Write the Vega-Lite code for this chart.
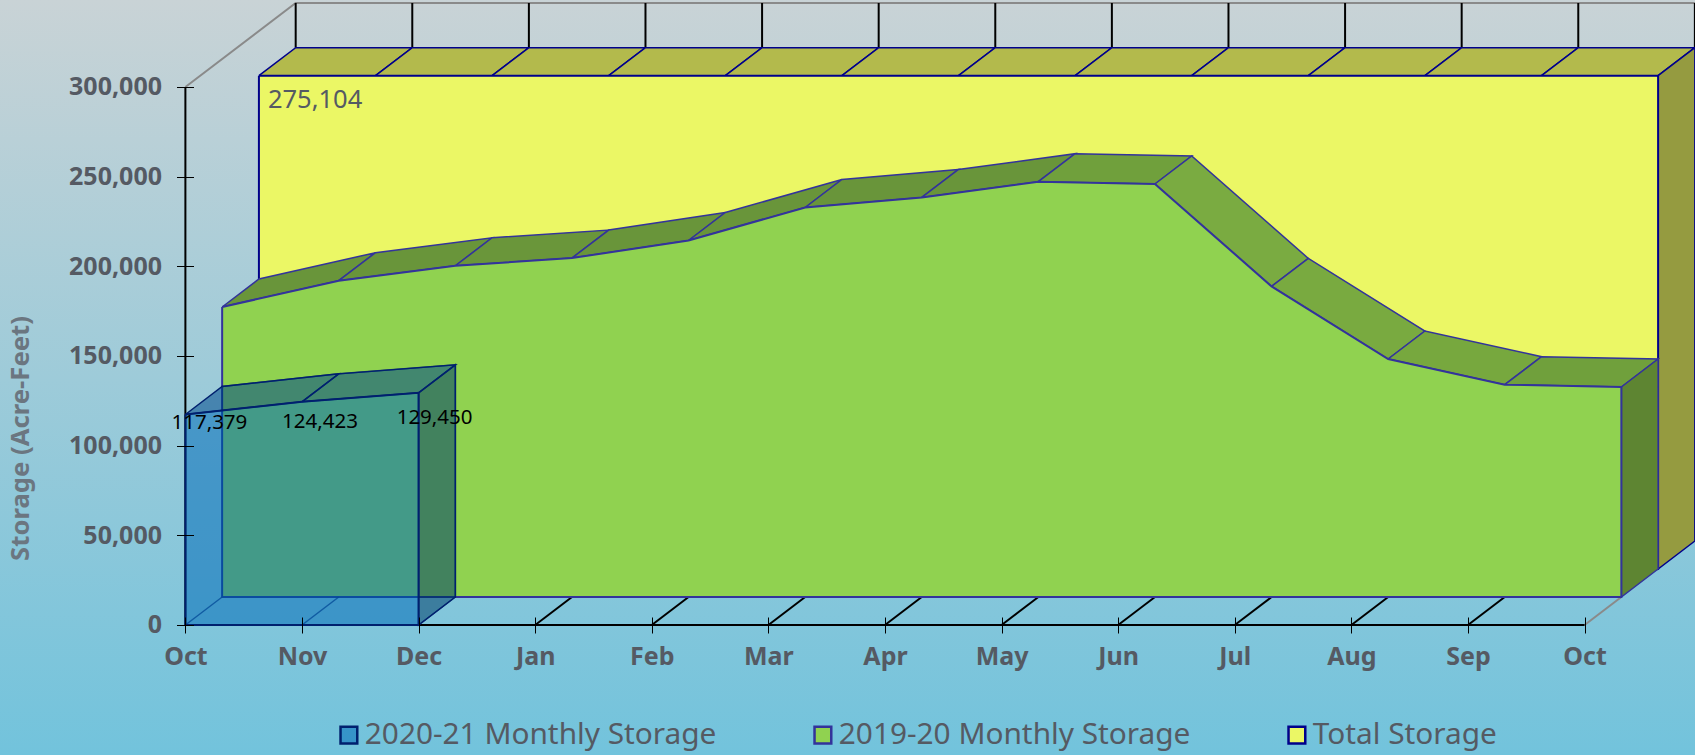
{"$schema":"https://vega.github.io/schema/vega-lite/v6.json","width":1695,"height":755,"padding":0,"autosize":{"type":"none"},
"view":{"stroke":null,"fill":{"gradient":"linear","x1":0,"y1":0,"x2":0,"y2":1,"stops":[{"offset":0,"color":"#c9d3d6"},{"offset":1,"color":"#72c3dc"}]}},
"config":{"font":"Noto Sans"},
"data":{"values":[
{"part":"walls","poly":"w0","ord":1,"t":0,"storage":300000,"depth":3},{"part":"walls","poly":"w0","ord":2,"t":0,"storage":275104,"depth":3},
{"part":"walls","poly":"w1","ord":1,"t":1,"storage":300000,"depth":3},{"part":"walls","poly":"w1","ord":2,"t":1,"storage":275104,"depth":3},
{"part":"walls","poly":"w2","ord":1,"t":2,"storage":300000,"depth":3},{"part":"walls","poly":"w2","ord":2,"t":2,"storage":275104,"depth":3},
{"part":"walls","poly":"w3","ord":1,"t":3,"storage":300000,"depth":3},{"part":"walls","poly":"w3","ord":2,"t":3,"storage":275104,"depth":3},
{"part":"walls","poly":"w4","ord":1,"t":4,"storage":300000,"depth":3},{"part":"walls","poly":"w4","ord":2,"t":4,"storage":275104,"depth":3},
{"part":"walls","poly":"w5","ord":1,"t":5,"storage":300000,"depth":3},{"part":"walls","poly":"w5","ord":2,"t":5,"storage":275104,"depth":3},
{"part":"walls","poly":"w6","ord":1,"t":6,"storage":300000,"depth":3},{"part":"walls","poly":"w6","ord":2,"t":6,"storage":275104,"depth":3},
{"part":"walls","poly":"w7","ord":1,"t":7,"storage":300000,"depth":3},{"part":"walls","poly":"w7","ord":2,"t":7,"storage":275104,"depth":3},
{"part":"walls","poly":"w8","ord":1,"t":8,"storage":300000,"depth":3},{"part":"walls","poly":"w8","ord":2,"t":8,"storage":275104,"depth":3},
{"part":"walls","poly":"w9","ord":1,"t":9,"storage":300000,"depth":3},{"part":"walls","poly":"w9","ord":2,"t":9,"storage":275104,"depth":3},
{"part":"walls","poly":"w10","ord":1,"t":10,"storage":300000,"depth":3},{"part":"walls","poly":"w10","ord":2,"t":10,"storage":275104,"depth":3},
{"part":"walls","poly":"w11","ord":1,"t":11,"storage":300000,"depth":3},{"part":"walls","poly":"w11","ord":2,"t":11,"storage":275104,"depth":3},
{"part":"walls","poly":"w12","ord":1,"t":12,"storage":300000,"depth":3},{"part":"walls","poly":"w12","ord":2,"t":12,"storage":275104,"depth":3},
{"part":"walls","poly":"f3","ord":1,"t":3,"storage":0,"depth":0},{"part":"walls","poly":"f3","ord":2,"t":3,"storage":0,"depth":1},
{"part":"walls","poly":"f4","ord":1,"t":4,"storage":0,"depth":0},{"part":"walls","poly":"f4","ord":2,"t":4,"storage":0,"depth":1},
{"part":"walls","poly":"f5","ord":1,"t":5,"storage":0,"depth":0},{"part":"walls","poly":"f5","ord":2,"t":5,"storage":0,"depth":1},
{"part":"walls","poly":"f6","ord":1,"t":6,"storage":0,"depth":0},{"part":"walls","poly":"f6","ord":2,"t":6,"storage":0,"depth":1},
{"part":"walls","poly":"f7","ord":1,"t":7,"storage":0,"depth":0},{"part":"walls","poly":"f7","ord":2,"t":7,"storage":0,"depth":1},
{"part":"walls","poly":"f8","ord":1,"t":8,"storage":0,"depth":0},{"part":"walls","poly":"f8","ord":2,"t":8,"storage":0,"depth":1},
{"part":"walls","poly":"f9","ord":1,"t":9,"storage":0,"depth":0},{"part":"walls","poly":"f9","ord":2,"t":9,"storage":0,"depth":1},
{"part":"walls","poly":"f10","ord":1,"t":10,"storage":0,"depth":0},{"part":"walls","poly":"f10","ord":2,"t":10,"storage":0,"depth":1},
{"part":"walls","poly":"f11","ord":1,"t":11,"storage":0,"depth":0},{"part":"walls","poly":"f11","ord":2,"t":11,"storage":0,"depth":1},
{"part":"walls","poly":"ax","ord":1,"t":0,"storage":300000,"depth":0},{"part":"walls","poly":"ax","ord":2,"t":0,"storage":0,"depth":0},{"part":"walls","poly":"ax","ord":3,"t":12,"storage":0,"depth":0},
{"part":"edges","poly":"g1","ord":1,"t":0,"storage":300000,"depth":0},{"part":"edges","poly":"g1","ord":2,"t":0,"storage":300000,"depth":3},{"part":"edges","poly":"g1","ord":3,"t":12,"storage":300000,"depth":3},
{"part":"edges","poly":"g2","ord":1,"t":12,"storage":0,"depth":0},{"part":"edges","poly":"g2","ord":2,"t":12,"storage":0,"depth":1},
{"part":"yellowTop","poly":0,"ord":1,"t":0,"storage":275104,"depth":2},{"part":"yellowTop","poly":0,"ord":2,"t":1,"storage":275104,"depth":2},{"part":"yellowTop","poly":0,"ord":3,"t":1,"storage":275104,"depth":3},{"part":"yellowTop","poly":0,"ord":4,"t":0,"storage":275104,"depth":3},{"part":"yellowTop","poly":0,"ord":5,"t":0,"storage":275104,"depth":2},
{"part":"yellowTop","poly":1,"ord":1,"t":1,"storage":275104,"depth":2},{"part":"yellowTop","poly":1,"ord":2,"t":2,"storage":275104,"depth":2},{"part":"yellowTop","poly":1,"ord":3,"t":2,"storage":275104,"depth":3},{"part":"yellowTop","poly":1,"ord":4,"t":1,"storage":275104,"depth":3},{"part":"yellowTop","poly":1,"ord":5,"t":1,"storage":275104,"depth":2},
{"part":"yellowTop","poly":2,"ord":1,"t":2,"storage":275104,"depth":2},{"part":"yellowTop","poly":2,"ord":2,"t":3,"storage":275104,"depth":2},{"part":"yellowTop","poly":2,"ord":3,"t":3,"storage":275104,"depth":3},{"part":"yellowTop","poly":2,"ord":4,"t":2,"storage":275104,"depth":3},{"part":"yellowTop","poly":2,"ord":5,"t":2,"storage":275104,"depth":2},
{"part":"yellowTop","poly":3,"ord":1,"t":3,"storage":275104,"depth":2},{"part":"yellowTop","poly":3,"ord":2,"t":4,"storage":275104,"depth":2},{"part":"yellowTop","poly":3,"ord":3,"t":4,"storage":275104,"depth":3},{"part":"yellowTop","poly":3,"ord":4,"t":3,"storage":275104,"depth":3},{"part":"yellowTop","poly":3,"ord":5,"t":3,"storage":275104,"depth":2},
{"part":"yellowTop","poly":4,"ord":1,"t":4,"storage":275104,"depth":2},{"part":"yellowTop","poly":4,"ord":2,"t":5,"storage":275104,"depth":2},{"part":"yellowTop","poly":4,"ord":3,"t":5,"storage":275104,"depth":3},{"part":"yellowTop","poly":4,"ord":4,"t":4,"storage":275104,"depth":3},{"part":"yellowTop","poly":4,"ord":5,"t":4,"storage":275104,"depth":2},
{"part":"yellowTop","poly":5,"ord":1,"t":5,"storage":275104,"depth":2},{"part":"yellowTop","poly":5,"ord":2,"t":6,"storage":275104,"depth":2},{"part":"yellowTop","poly":5,"ord":3,"t":6,"storage":275104,"depth":3},{"part":"yellowTop","poly":5,"ord":4,"t":5,"storage":275104,"depth":3},{"part":"yellowTop","poly":5,"ord":5,"t":5,"storage":275104,"depth":2},
{"part":"yellowTop","poly":6,"ord":1,"t":6,"storage":275104,"depth":2},{"part":"yellowTop","poly":6,"ord":2,"t":7,"storage":275104,"depth":2},{"part":"yellowTop","poly":6,"ord":3,"t":7,"storage":275104,"depth":3},{"part":"yellowTop","poly":6,"ord":4,"t":6,"storage":275104,"depth":3},{"part":"yellowTop","poly":6,"ord":5,"t":6,"storage":275104,"depth":2},
{"part":"yellowTop","poly":7,"ord":1,"t":7,"storage":275104,"depth":2},{"part":"yellowTop","poly":7,"ord":2,"t":8,"storage":275104,"depth":2},{"part":"yellowTop","poly":7,"ord":3,"t":8,"storage":275104,"depth":3},{"part":"yellowTop","poly":7,"ord":4,"t":7,"storage":275104,"depth":3},{"part":"yellowTop","poly":7,"ord":5,"t":7,"storage":275104,"depth":2},
{"part":"yellowTop","poly":8,"ord":1,"t":8,"storage":275104,"depth":2},{"part":"yellowTop","poly":8,"ord":2,"t":9,"storage":275104,"depth":2},{"part":"yellowTop","poly":8,"ord":3,"t":9,"storage":275104,"depth":3},{"part":"yellowTop","poly":8,"ord":4,"t":8,"storage":275104,"depth":3},{"part":"yellowTop","poly":8,"ord":5,"t":8,"storage":275104,"depth":2},
{"part":"yellowTop","poly":9,"ord":1,"t":9,"storage":275104,"depth":2},{"part":"yellowTop","poly":9,"ord":2,"t":10,"storage":275104,"depth":2},{"part":"yellowTop","poly":9,"ord":3,"t":10,"storage":275104,"depth":3},{"part":"yellowTop","poly":9,"ord":4,"t":9,"storage":275104,"depth":3},{"part":"yellowTop","poly":9,"ord":5,"t":9,"storage":275104,"depth":2},
{"part":"yellowTop","poly":10,"ord":1,"t":10,"storage":275104,"depth":2},{"part":"yellowTop","poly":10,"ord":2,"t":11,"storage":275104,"depth":2},{"part":"yellowTop","poly":10,"ord":3,"t":11,"storage":275104,"depth":3},{"part":"yellowTop","poly":10,"ord":4,"t":10,"storage":275104,"depth":3},{"part":"yellowTop","poly":10,"ord":5,"t":10,"storage":275104,"depth":2},
{"part":"yellowTop","poly":11,"ord":1,"t":11,"storage":275104,"depth":2},{"part":"yellowTop","poly":11,"ord":2,"t":12,"storage":275104,"depth":2},{"part":"yellowTop","poly":11,"ord":3,"t":12,"storage":275104,"depth":3},{"part":"yellowTop","poly":11,"ord":4,"t":11,"storage":275104,"depth":3},{"part":"yellowTop","poly":11,"ord":5,"t":11,"storage":275104,"depth":2},
{"part":"yellowSide","poly":0,"ord":1,"t":12,"storage":275104,"depth":2},{"part":"yellowSide","poly":0,"ord":2,"t":12,"storage":275104,"depth":3},{"part":"yellowSide","poly":0,"ord":3,"t":12,"storage":0,"depth":3},{"part":"yellowSide","poly":0,"ord":4,"t":12,"storage":0,"depth":2},{"part":"yellowSide","poly":0,"ord":5,"t":12,"storage":275104,"depth":2},
{"part":"yellowFront","poly":0,"ord":1,"t":0,"storage":275104,"depth":2,"series":"Total Storage"},{"part":"yellowFront","poly":0,"ord":2,"t":12,"storage":275104,"depth":2,"series":"Total Storage"},{"part":"yellowFront","poly":0,"ord":3,"t":12,"storage":0,"depth":2,"series":"Total Storage"},{"part":"yellowFront","poly":0,"ord":4,"t":0,"storage":0,"depth":2,"series":"Total Storage"},{"part":"yellowFront","poly":0,"ord":5,"t":0,"storage":275104,"depth":2,"series":"Total Storage"},
{"part":"greenTop","poly":0,"ord":1,"t":0,"storage":161700,"depth":1,"change":14700},{"part":"greenTop","poly":0,"ord":2,"t":1,"storage":176400,"depth":1,"change":14700},{"part":"greenTop","poly":0,"ord":3,"t":1,"storage":176400,"depth":2,"change":14700},{"part":"greenTop","poly":0,"ord":4,"t":0,"storage":161700,"depth":2,"change":14700},{"part":"greenTop","poly":0,"ord":5,"t":0,"storage":161700,"depth":1,"change":14700},
{"part":"greenTop","poly":1,"ord":1,"t":1,"storage":176400,"depth":1,"change":8300},{"part":"greenTop","poly":1,"ord":2,"t":2,"storage":184700,"depth":1,"change":8300},{"part":"greenTop","poly":1,"ord":3,"t":2,"storage":184700,"depth":2,"change":8300},{"part":"greenTop","poly":1,"ord":4,"t":1,"storage":176400,"depth":2,"change":8300},{"part":"greenTop","poly":1,"ord":5,"t":1,"storage":176400,"depth":1,"change":8300},
{"part":"greenTop","poly":2,"ord":1,"t":2,"storage":184700,"depth":1,"change":4300},{"part":"greenTop","poly":2,"ord":2,"t":3,"storage":189000,"depth":1,"change":4300},{"part":"greenTop","poly":2,"ord":3,"t":3,"storage":189000,"depth":2,"change":4300},{"part":"greenTop","poly":2,"ord":4,"t":2,"storage":184700,"depth":2,"change":4300},{"part":"greenTop","poly":2,"ord":5,"t":2,"storage":184700,"depth":1,"change":4300},
{"part":"greenTop","poly":3,"ord":1,"t":3,"storage":189000,"depth":1,"change":9800},{"part":"greenTop","poly":3,"ord":2,"t":4,"storage":198800,"depth":1,"change":9800},{"part":"greenTop","poly":3,"ord":3,"t":4,"storage":198800,"depth":2,"change":9800},{"part":"greenTop","poly":3,"ord":4,"t":3,"storage":189000,"depth":2,"change":9800},{"part":"greenTop","poly":3,"ord":5,"t":3,"storage":189000,"depth":1,"change":9800},
{"part":"greenTop","poly":4,"ord":1,"t":4,"storage":198800,"depth":1,"change":18400},{"part":"greenTop","poly":4,"ord":2,"t":5,"storage":217200,"depth":1,"change":18400},{"part":"greenTop","poly":4,"ord":3,"t":5,"storage":217200,"depth":2,"change":18400},{"part":"greenTop","poly":4,"ord":4,"t":4,"storage":198800,"depth":2,"change":18400},{"part":"greenTop","poly":4,"ord":5,"t":4,"storage":198800,"depth":1,"change":18400},
{"part":"greenTop","poly":5,"ord":1,"t":5,"storage":217200,"depth":1,"change":5600},{"part":"greenTop","poly":5,"ord":2,"t":6,"storage":222800,"depth":1,"change":5600},{"part":"greenTop","poly":5,"ord":3,"t":6,"storage":222800,"depth":2,"change":5600},{"part":"greenTop","poly":5,"ord":4,"t":5,"storage":217200,"depth":2,"change":5600},{"part":"greenTop","poly":5,"ord":5,"t":5,"storage":217200,"depth":1,"change":5600},
{"part":"greenTop","poly":6,"ord":1,"t":6,"storage":222800,"depth":1,"change":8800},{"part":"greenTop","poly":6,"ord":2,"t":7,"storage":231600,"depth":1,"change":8800},{"part":"greenTop","poly":6,"ord":3,"t":7,"storage":231600,"depth":2,"change":8800},{"part":"greenTop","poly":6,"ord":4,"t":6,"storage":222800,"depth":2,"change":8800},{"part":"greenTop","poly":6,"ord":5,"t":6,"storage":222800,"depth":1,"change":8800},
{"part":"greenTop","poly":7,"ord":1,"t":7,"storage":231600,"depth":1,"change":-1300},{"part":"greenTop","poly":7,"ord":2,"t":8,"storage":230300,"depth":1,"change":-1300},{"part":"greenTop","poly":7,"ord":3,"t":8,"storage":230300,"depth":2,"change":-1300},{"part":"greenTop","poly":7,"ord":4,"t":7,"storage":231600,"depth":2,"change":-1300},{"part":"greenTop","poly":7,"ord":5,"t":7,"storage":231600,"depth":1,"change":-1300},
{"part":"greenTop","poly":8,"ord":1,"t":8,"storage":230300,"depth":1,"change":-57100},{"part":"greenTop","poly":8,"ord":2,"t":9,"storage":173200,"depth":1,"change":-57100},{"part":"greenTop","poly":8,"ord":3,"t":9,"storage":173200,"depth":2,"change":-57100},{"part":"greenTop","poly":8,"ord":4,"t":8,"storage":230300,"depth":2,"change":-57100},{"part":"greenTop","poly":8,"ord":5,"t":8,"storage":230300,"depth":1,"change":-57100},
{"part":"greenTop","poly":9,"ord":1,"t":9,"storage":173200,"depth":1,"change":-40500},{"part":"greenTop","poly":9,"ord":2,"t":10,"storage":132700,"depth":1,"change":-40500},{"part":"greenTop","poly":9,"ord":3,"t":10,"storage":132700,"depth":2,"change":-40500},{"part":"greenTop","poly":9,"ord":4,"t":9,"storage":173200,"depth":2,"change":-40500},{"part":"greenTop","poly":9,"ord":5,"t":9,"storage":173200,"depth":1,"change":-40500},
{"part":"greenTop","poly":10,"ord":1,"t":10,"storage":132700,"depth":1,"change":-14300},{"part":"greenTop","poly":10,"ord":2,"t":11,"storage":118400,"depth":1,"change":-14300},{"part":"greenTop","poly":10,"ord":3,"t":11,"storage":118400,"depth":2,"change":-14300},{"part":"greenTop","poly":10,"ord":4,"t":10,"storage":132700,"depth":2,"change":-14300},{"part":"greenTop","poly":10,"ord":5,"t":10,"storage":132700,"depth":1,"change":-14300},
{"part":"greenTop","poly":11,"ord":1,"t":11,"storage":118400,"depth":1,"change":-1300},{"part":"greenTop","poly":11,"ord":2,"t":12,"storage":117100,"depth":1,"change":-1300},{"part":"greenTop","poly":11,"ord":3,"t":12,"storage":117100,"depth":2,"change":-1300},{"part":"greenTop","poly":11,"ord":4,"t":11,"storage":118400,"depth":2,"change":-1300},{"part":"greenTop","poly":11,"ord":5,"t":11,"storage":118400,"depth":1,"change":-1300},
{"part":"greenSide","poly":0,"ord":1,"t":12,"storage":117100,"depth":1},{"part":"greenSide","poly":0,"ord":2,"t":12,"storage":117100,"depth":2},{"part":"greenSide","poly":0,"ord":3,"t":12,"storage":0,"depth":2},{"part":"greenSide","poly":0,"ord":4,"t":12,"storage":0,"depth":1},{"part":"greenSide","poly":0,"ord":5,"t":12,"storage":117100,"depth":1},
{"part":"greenFront","poly":0,"ord":1,"t":0,"storage":161700,"depth":1,"series":"2019-20 Monthly Storage"},{"part":"greenFront","poly":0,"ord":2,"t":1,"storage":176400,"depth":1,"series":"2019-20 Monthly Storage"},{"part":"greenFront","poly":0,"ord":3,"t":2,"storage":184700,"depth":1,"series":"2019-20 Monthly Storage"},{"part":"greenFront","poly":0,"ord":4,"t":3,"storage":189000,"depth":1,"series":"2019-20 Monthly Storage"},{"part":"greenFront","poly":0,"ord":5,"t":4,"storage":198800,"depth":1,"series":"2019-20 Monthly Storage"},{"part":"greenFront","poly":0,"ord":6,"t":5,"storage":217200,"depth":1,"series":"2019-20 Monthly Storage"},{"part":"greenFront","poly":0,"ord":7,"t":6,"storage":222800,"depth":1,"series":"2019-20 Monthly Storage"},{"part":"greenFront","poly":0,"ord":8,"t":7,"storage":231600,"depth":1,"series":"2019-20 Monthly Storage"},{"part":"greenFront","poly":0,"ord":9,"t":8,"storage":230300,"depth":1,"series":"2019-20 Monthly Storage"},{"part":"greenFront","poly":0,"ord":10,"t":9,"storage":173200,"depth":1,"series":"2019-20 Monthly Storage"},{"part":"greenFront","poly":0,"ord":11,"t":10,"storage":132700,"depth":1,"series":"2019-20 Monthly Storage"},{"part":"greenFront","poly":0,"ord":12,"t":11,"storage":118400,"depth":1,"series":"2019-20 Monthly Storage"},{"part":"greenFront","poly":0,"ord":13,"t":12,"storage":117100,"depth":1,"series":"2019-20 Monthly Storage"},{"part":"greenFront","poly":0,"ord":14,"t":12,"storage":0,"depth":1,"series":"2019-20 Monthly Storage"},{"part":"greenFront","poly":0,"ord":15,"t":0,"storage":0,"depth":1,"series":"2019-20 Monthly Storage"},{"part":"greenFront","poly":0,"ord":16,"t":0,"storage":161700,"depth":1,"series":"2019-20 Monthly Storage"},
{"part":"blueLines","poly":"b","ord":1,"t":0,"storage":0,"depth":1},{"part":"blueLines","poly":"b","ord":2,"t":0,"storage":117379,"depth":1},{"part":"blueLines","poly":"b","ord":3,"t":1,"storage":124423,"depth":1},{"part":"blueLines","poly":"b","ord":4,"t":2,"storage":129450,"depth":1},{"part":"blueLines","poly":"b","ord":5,"t":2,"storage":0,"depth":1},{"part":"blueLines","poly":"b","ord":6,"t":0,"storage":0,"depth":1},
{"part":"blueLines","poly":"f0","ord":1,"t":0,"storage":0,"depth":0},{"part":"blueLines","poly":"f0","ord":2,"t":0,"storage":0,"depth":1},
{"part":"blueLines","poly":"f1","ord":1,"t":1,"storage":0,"depth":0},{"part":"blueLines","poly":"f1","ord":2,"t":1,"storage":0,"depth":1},
{"part":"blueLines","poly":"f2","ord":1,"t":2,"storage":0,"depth":0},{"part":"blueLines","poly":"f2","ord":2,"t":2,"storage":0,"depth":1},
{"part":"blueTop","poly":0,"ord":1,"t":0,"storage":117379,"depth":0},{"part":"blueTop","poly":0,"ord":2,"t":1,"storage":124423,"depth":0},{"part":"blueTop","poly":0,"ord":3,"t":1,"storage":124423,"depth":1},{"part":"blueTop","poly":0,"ord":4,"t":0,"storage":117379,"depth":1},{"part":"blueTop","poly":0,"ord":5,"t":0,"storage":117379,"depth":0},
{"part":"blueTop","poly":1,"ord":1,"t":1,"storage":124423,"depth":0},{"part":"blueTop","poly":1,"ord":2,"t":2,"storage":129450,"depth":0},{"part":"blueTop","poly":1,"ord":3,"t":2,"storage":129450,"depth":1},{"part":"blueTop","poly":1,"ord":4,"t":1,"storage":124423,"depth":1},{"part":"blueTop","poly":1,"ord":5,"t":1,"storage":124423,"depth":0},
{"part":"blueSide","poly":0,"ord":1,"t":2,"storage":129450,"depth":0},{"part":"blueSide","poly":0,"ord":2,"t":2,"storage":129450,"depth":1},{"part":"blueSide","poly":0,"ord":3,"t":2,"storage":0,"depth":1},{"part":"blueSide","poly":0,"ord":4,"t":2,"storage":0,"depth":0},{"part":"blueSide","poly":0,"ord":5,"t":2,"storage":129450,"depth":0},
{"part":"blueFront","poly":0,"ord":1,"t":0,"storage":117379,"depth":0,"series":"2020-21 Monthly Storage"},{"part":"blueFront","poly":0,"ord":2,"t":1,"storage":124423,"depth":0,"series":"2020-21 Monthly Storage"},{"part":"blueFront","poly":0,"ord":3,"t":2,"storage":129450,"depth":0,"series":"2020-21 Monthly Storage"},{"part":"blueFront","poly":0,"ord":4,"t":2,"storage":0,"depth":0,"series":"2020-21 Monthly Storage"},{"part":"blueFront","poly":0,"ord":5,"t":0,"storage":0,"depth":0,"series":"2020-21 Monthly Storage"},{"part":"blueFront","poly":0,"ord":6,"t":0,"storage":117379,"depth":0,"series":"2020-21 Monthly Storage"},
{"part":"labelYellow","t":0,"storage":275104,"depth":2,"label":"275,104"},
{"part":"labelOct","t":0,"storage":117379,"depth":0,"label":"117,379"},
{"part":"labelNov","t":1,"storage":124423,"depth":0,"label":"124,423"},
{"part":"labelDec","t":2,"storage":129450,"depth":0,"label":"129,450"}
]},
"transform":[
{"calculate":"datum.t + datum.depth * 0.3153","as":"projected_t"},
{"calculate":"datum.storage + datum.depth * 15613","as":"projected_storage"}
],
"encoding":{
"x":{"field":"projected_t","type":"quantitative","scale":{"domain":[-1.59,12.947],"nice":false,"zero":false},
"axis":{"title":null,"grid":false,"domain":false,"orient":"bottom","offset":-138,"values":[0,1,2,3,4,5,6,7,8,9,10,11,12],"labelExpr":"['Oct','Nov','Dec','Jan','Feb','Mar','Apr','May','Jun','Jul','Aug','Sep','Oct'][datum.value]","tickSize":16,"tickColor":"#000000","tickWidth":1,"labelPadding":11,"labelFont":"Noto Sans","labelFontSize":25,"labelFontWeight":"bold","labelColor":"#555a63","labelFlush":false,"labelOverlap":false,"zindex":1}},
"y":{"field":"projected_storage","type":"quantitative","scale":{"domain":[-72491,348513],"nice":false,"zero":false},
"axis":{"title":"Storage (Acre-Feet)","grid":false,"domain":false,"orient":"left","offset":-193.5,"values":[0,50000,100000,150000,200000,250000,300000],"format":",.0f","tickSize":17,"tickColor":"#000000","tickWidth":1,"labelPadding":15,"labelFont":"Noto Sans","labelFontSize":25,"labelFontWeight":"bold","labelColor":"#555a63","labelFlush":false,"labelOverlap":false,"titleFont":"Noto Sans","titleFontSize":25.7,"titleFontWeight":"bold","titleColor":"#6b7680","titleX":-173,"titleY":438,"titleAngle":270,"titleAlign":"center","titleBaseline":"middle","zindex":1}},
"detail":{"field":"poly"},
"order":{"field":"ord"}
},
"layer":[
{"transform":[{"filter":"datum.part==='edges'"}],"mark":{"type":"line","stroke":"#8a8a8a","strokeWidth":2}},
{"transform":[{"filter":"datum.part==='walls'"}],"mark":{"type":"line","stroke":"#000000","strokeWidth":2}},
{"transform":[{"filter":"datum.part==='yellowTop'"}],"mark":{"type":"line","fill":"#b3ba4c","stroke":"#00008b","strokeWidth":1.5}},
{"transform":[{"filter":"datum.part==='yellowSide'"}],"mark":{"type":"line","fill":"#959b40","stroke":"#00008b","strokeWidth":1.5}},
{"transform":[{"filter":"datum.part==='yellowFront'"}],"mark":{"type":"line","strokeWidth":2},"encoding":{
"fill":{"field":"series","type":"nominal","scale":{"domain":["2020-21 Monthly Storage","2019-20 Monthly Storage","Total Storage"],"range":["rgba(2,107,185,0.54)","#90d250","#ebf765"]},
"legend":{"title":null,"orient":"none","direction":"horizontal","columns":3,"legendX":334,"legendY":720,"symbolType":"square","symbolSize":280,"symbolStrokeWidth":2.5,"labelFont":"Noto Sans","labelFontSize":29.8,"labelColor":"#555a63","labelLimit":500,"labelOffset":1,"columnPadding":91,"padding":0}},
"stroke":{"field":"series","type":"nominal","scale":{"domain":["2020-21 Monthly Storage","2019-20 Monthly Storage","Total Storage"],"range":["#00206e","#33339b","#00008b"]},"legend":{"title":null,"orient":"none","direction":"horizontal","columns":3,"legendX":334,"legendY":720,"symbolType":"square","symbolSize":280,"symbolStrokeWidth":2.5,"labelFont":"Noto Sans","labelFontSize":29.8,"labelColor":"#555a63","labelLimit":500,"labelOffset":1,"columnPadding":91,"padding":0}}}},
{"transform":[{"filter":"datum.part==='greenTop'"}],"mark":{"type":"line","filled":true,"stroke":"#33339b","strokeWidth":1.5},"encoding":{"color":{"field":"change","type":"quantitative","scale":{"domain":[-57100,-14300,-1300,5000,18400],"range":["#7aab41","#77a83e","#70a03c","#69953a","#69953a"]},"legend":null}}},
{"transform":[{"filter":"datum.part==='greenSide'"}],"mark":{"type":"line","fill":"#5e8532","stroke":"#33339b","strokeWidth":1.5}},
{"transform":[{"filter":"datum.part==='greenFront'"}],"mark":{"type":"line","strokeWidth":2},"encoding":{"fill":{"field":"series","type":"nominal"},"stroke":{"field":"series","type":"nominal"}}},
{"transform":[{"filter":"datum.part==='blueLines'"}],"mark":{"type":"line","stroke":"#00206e","strokeOpacity":0.75,"strokeWidth":1.5}},
{"transform":[{"filter":"datum.part==='blueTop'"}],"mark":{"type":"line","fill":"rgba(0,72,139,0.54)","stroke":"#00206e","strokeWidth":1.5}},
{"transform":[{"filter":"datum.part==='blueSide'"}],"mark":{"type":"line","fill":"rgba(0,62,108,0.54)","stroke":"#00206e","strokeWidth":1.5}},
{"transform":[{"filter":"datum.part==='blueFront'"}],"mark":{"type":"line","strokeWidth":2},"encoding":{"fill":{"field":"series","type":"nominal"},"stroke":{"field":"series","type":"nominal"}}},
{"transform":[{"filter":"datum.part==='labelYellow'"}],"mark":{"type":"text","align":"left","baseline":"middle","dx":9,"dy":24,"fontSize":25.5,"font":"Noto Sans","color":"#555a63"},"encoding":{"text":{"field":"label"}}},
{"transform":[{"filter":"datum.part==='labelOct'"}],"mark":{"type":"text","align":"center","baseline":"middle","dx":24,"dy":8,"fontSize":20.5,"font":"Noto Sans","color":"#000000"},"encoding":{"text":{"field":"label"}}},
{"transform":[{"filter":"datum.part==='labelNov'"}],"mark":{"type":"text","align":"center","baseline":"middle","dx":18,"dy":20,"fontSize":20.5,"font":"Noto Sans","color":"#000000"},"encoding":{"text":{"field":"label"}}},
{"transform":[{"filter":"datum.part==='labelDec'"}],"mark":{"type":"text","align":"center","baseline":"middle","dx":16,"dy":25,"fontSize":20.5,"font":"Noto Sans","color":"#000000"},"encoding":{"text":{"field":"label"}}}
]
}
